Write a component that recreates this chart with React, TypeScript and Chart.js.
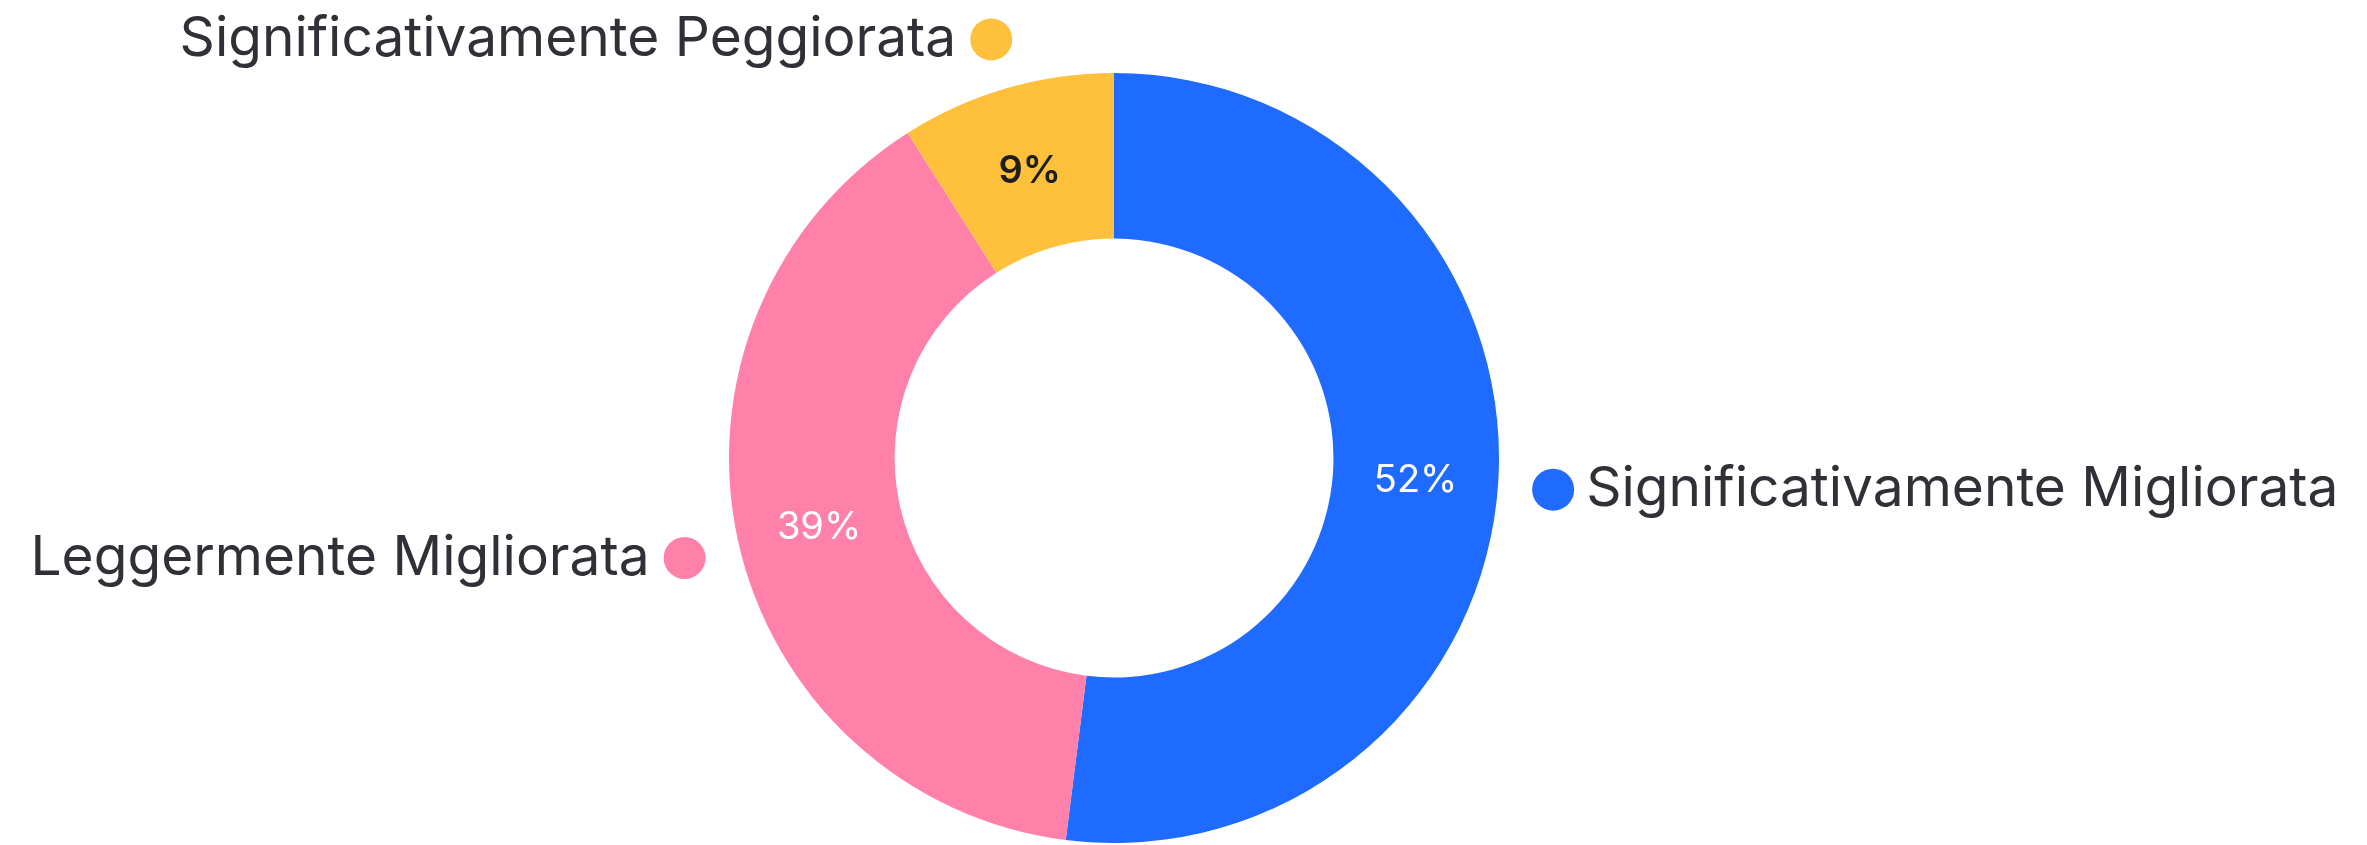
import React, { useEffect, useRef } from "react";
import { Chart, registerables } from "chart.js";

Chart.register(...registerables);

const categories = ["Significativamente Migliorata", "Leggermente Migliorata", "Significativamente Peggiorata"];
const values = [52, 39, 9];
const sliceColors = ["#1f6bff", "#ff80a9", "#ffc13b"];
const pctColors = ["#ffffff", "#ffffff", "#1e1e1e"];
const pctWeights = ["400", "400", "600"];

const FONT = "Inter, 'Noto Sans', sans-serif";

const labelPlugin = {
  id: "outerLabels",
  afterDatasetsDraw(chart: any) {
    const ctx = chart.ctx;
    const meta = chart.getDatasetMeta(0);
    const data = chart.data.datasets[0].data as number[];
    const total = data.reduce((a: number, b: number) => a + b, 0);
    meta.data.forEach((arc: any, i: number) => {
      const p = arc.getProps(["x", "y", "startAngle", "endAngle", "innerRadius", "outerRadius"], true);
      const mid = (p.startAngle + p.endAngle) / 2;
      const rMid = (p.innerRadius + p.outerRadius) / 2;
      ctx.save();
      ctx.font = `${pctWeights[i]} 38px ${FONT}`;
      ctx.fillStyle = pctColors[i];
      ctx.textAlign = "center";
      ctx.textBaseline = "middle";
      ctx.fillText(Math.round((data[i] / total) * 100) + "%", p.x + Math.cos(mid) * rMid, p.y + Math.sin(mid) * rMid + 4);
      const rOut = p.outerRadius + 55;
      const dx = p.x + Math.cos(mid) * rOut;
      const dy = p.y + Math.sin(mid) * rOut + 4;
      const dotR = 21;
      ctx.beginPath();
      ctx.arc(dx, dy, dotR, 0, Math.PI * 2);
      ctx.fillStyle = sliceColors[i];
      ctx.fill();
      ctx.font = `400 55px ${FONT}`;
      ctx.fillStyle = "#303036";
      ctx.textBaseline = "middle";
      if (Math.cos(mid) >= 0) {
        ctx.textAlign = "left";
        ctx.fillText(chart.data.labels[i], dx + dotR + 12, dy);
      } else {
        ctx.textAlign = "right";
        ctx.fillText(chart.data.labels[i], dx - dotR - 14, dy);
      }
      ctx.restore();
    });
  },
};

export default function App() {
  const ref = useRef<HTMLCanvasElement>(null);
  useEffect(() => {
    if (!ref.current) return;
    const chart = new Chart(ref.current, {
      type: "doughnut",
      data: {
        labels: categories,
        datasets: [
          {
            data: values,
            backgroundColor: sliceColors,
            borderWidth: 0,
            hoverOffset: 0,
          },
        ],
      },
      options: {
        responsive: false,
        animation: false,
        events: [],
        cutout: "57%",
        layout: { padding: { top: 73, bottom: 2, left: 729, right: 868 } },
        plugins: { legend: { display: false }, tooltip: { enabled: false } },
      },
      plugins: [labelPlugin],
    });
    return () => chart.destroy();
  }, []);
  return (
    <div style={{ position: "fixed", left: 0, top: 0, width: 2367, height: 845, background: "#fff" }}>
      <canvas ref={ref} width={2367} height={845} style={{ width: 2367, height: 845 }} />
    </div>
  );
}
